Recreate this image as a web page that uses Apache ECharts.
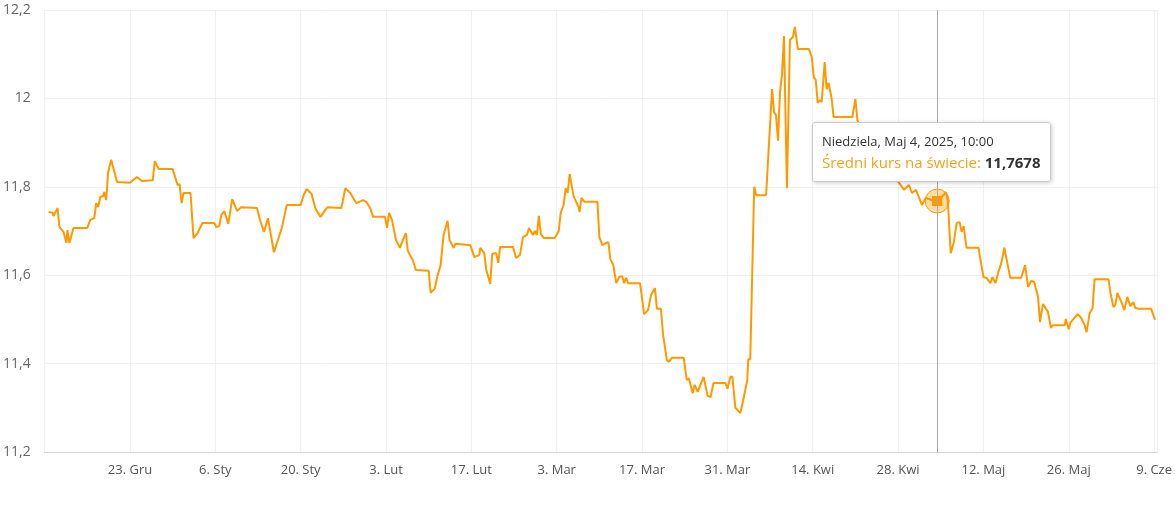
<!DOCTYPE html>
<html>
<head>
<meta charset="utf-8">
<script src="https://cdn.jsdelivr.net/npm/echarts@6/dist/echarts.min.js"></script>
<style>
  html, body { margin: 0; padding: 0; background: #fff; }
  #chart { width: 1175px; height: 506px; }
</style>
</head>
<body>
<div id="chart"></div>
<script>
// dni od 23 grudnia 2024
const days = [
  -13.35, -12.70, -12.54, -11.88, -11.56, -10.91, -10.42, -10.26, -9.93, -9.28,
  -7.00, -6.51, -5.86, -5.54, -5.21, -4.88, -4.40, -4.23, -3.91, -3.58,
  -3.09, -2.77, -2.12, 0, 1.14, 1.95, 3.74, 4.07, 4.72, 7.00,
  7.81, 8.14, 8.47, 8.79, 9.93, 10.42, 11.07, 11.88, 13.84, 14.16,
  14.65, 14.98, 15.47, 16.12, 16.77, 17.09, 17.58, 18.23, 20.84, 21.33,
  21.98, 22.63, 23.61, 24.42, 24.91, 25.72, 28.00, 28.49, 28.98, 29.79,
  30.44, 31.26, 31.91, 32.40, 34.68, 35.33, 36.14, 37.12, 38.26, 38.75,
  39.40, 39.89, 41.84, 42.17, 42.50, 42.98, 43.63, 44.28, 44.77, 45.26,
  45.58, 46.40, 46.89, 49.00, 49.33, 49.98, 50.47, 50.96, 51.44, 52.10,
  52.42, 53.07, 53.40, 55.84, 56.49, 57.31, 57.47, 58.12, 58.45, 59.10,
  59.42, 60.07, 60.40, 60.72, 62.84, 63.33, 63.98, 64.47, 65.12, 65.45,
  66.10, 66.42, 66.75, 67.07, 67.40, 67.89, 69.68, 70.33, 70.66, 71.14,
  71.47, 71.80, 72.12, 72.77, 73.59, 73.75, 74.07, 74.56, 76.68, 77.00,
  77.49, 78.14, 78.47, 78.80, 79.28, 79.77, 80.26, 80.75, 81.07, 81.40,
  81.72, 83.68, 84.33, 84.98, 85.47, 86.12, 86.44, 87.10, 87.42, 88.07,
  88.40, 88.89, 90.84, 91.33, 91.66, 92.31, 92.63, 93.12, 94.10, 94.75,
  95.24, 95.72, 97.68, 98.00, 98.49, 98.82, 99.31, 99.63, 100.12, 100.61,
  101.26, 101.42, 101.75, 102.40, 102.72, 104.35, 105.33, 105.66, 105.98, 106.31,
  106.63, 106.96, 107.28, 107.77, 108.26, 108.75, 109.07, 109.56, 111.35, 111.84,
  112.17, 112.49, 112.82, 113.14, 113.47, 113.96, 114.28, 114.61, 115.09, 115.42,
  118.51, 119.00, 119.33, 120.63, 122.09, 123.72, 125.35, 126.16, 126.98, 127.79,
  128.28, 128.93, 129.25, 129.91, 130.56, 131.53, 132.4167, 133.17, 133.83, 134.15,
  134.64, 135.12, 135.61, 136.10, 136.42, 136.75, 137.24, 139.19, 140.00, 140.49,
  141.14, 141.47, 141.96, 142.45, 142.94, 143.43, 143.75, 144.40, 146.19, 146.84,
  147.33, 147.82, 148.31, 148.96, 149.28, 149.77, 150.58, 151.07, 151.40, 153.35,
  153.51, 154.00, 154.33, 155.46, 155.95, 156.60, 156.93, 157.42, 157.91, 158.23,
  160.51, 160.84, 161.32, 161.65, 161.97, 162.63, 163.11, 163.60, 164.09, 164.58,
  164.90, 165.39, 167.51, 168.16
]
const rates = [
  11.743, 11.741, 11.734, 11.752, 11.709, 11.698, 11.673, 11.702, 11.673, 11.707,
  11.707, 11.725, 11.729, 11.763, 11.754, 11.777, 11.779, 11.788, 11.770, 11.833,
  11.861, 11.865, 11.811, 11.809, 11.822, 11.813, 11.815, 11.858, 11.840, 11.840,
  11.804, 11.806, 11.763, 11.786, 11.786, 11.684, 11.695, 11.718, 11.718, 11.709,
  11.711, 11.736, 11.745, 11.716, 11.772, 11.770, 11.745, 11.754, 11.752, 11.725,
  11.698, 11.729, 11.652, 11.686, 11.707, 11.759, 11.759, 11.781, 11.795, 11.784,
  11.750, 11.732, 11.745, 11.754, 11.752, 11.797, 11.786, 11.763, 11.770, 11.766,
  11.752, 11.732, 11.732, 11.707, 11.741, 11.725, 11.680, 11.662, 11.680, 11.695,
  11.655, 11.634, 11.612, 11.610, 11.560, 11.569, 11.600, 11.623, 11.691, 11.723,
  11.680, 11.662, 11.671, 11.668, 11.641, 11.646, 11.662, 11.650, 11.612, 11.580,
  11.648, 11.650, 11.628, 11.664, 11.664, 11.639, 11.646, 11.686, 11.691, 11.707,
  11.691, 11.700, 11.691, 11.734, 11.693, 11.684, 11.684, 11.700, 11.741, 11.759,
  11.797, 11.786, 11.829, 11.779, 11.754, 11.743, 11.775, 11.766, 11.766, 11.686,
  11.668, 11.673, 11.675, 11.637, 11.623, 11.582, 11.596, 11.598, 11.582, 11.594,
  11.582, 11.582, 11.512, 11.521, 11.555, 11.571, 11.524, 11.524, 11.469, 11.408,
  11.404, 11.413, 11.413, 11.363, 11.367, 11.333, 11.352, 11.336, 11.370, 11.327,
  11.324, 11.356, 11.356, 11.343, 11.370, 11.370, 11.300, 11.302, 11.288, 11.318,
  11.363, 11.410, 11.410, 11.800, 11.781, 11.781, 12.021, 11.969, 11.962, 11.904,
  12.014, 12.053, 12.141, 11.797, 12.132, 12.139, 12.162, 12.112, 12.112, 12.094,
  12.048, 12.042, 11.990, 11.996, 11.992, 12.082, 12.021, 12.035, 12.001, 11.958,
  11.958, 11.999, 11.951, 11.906, 11.883, 11.849, 11.820, 11.809, 11.793, 11.804,
  11.786, 11.793, 11.797, 11.759, 11.775, 11.770, 11.7678, 11.777, 11.788, 11.770,
  11.650, 11.673, 11.718, 11.720, 11.698, 11.711, 11.662, 11.662, 11.596, 11.594,
  11.582, 11.596, 11.582, 11.607, 11.628, 11.662, 11.662, 11.594, 11.594, 11.623,
  11.573, 11.587, 11.585, 11.551, 11.494, 11.535, 11.517, 11.481, 11.487, 11.487,
  11.501, 11.478, 11.494, 11.512, 11.505, 11.487, 11.471, 11.514, 11.526, 11.591,
  11.591, 11.560, 11.528, 11.533, 11.560, 11.539, 11.521, 11.551, 11.530, 11.539,
  11.526, 11.524, 11.524, 11.499
]
const monthNames = ['Sty', 'Lut', 'Mar', 'Kwi', 'Maj', 'Cze', 'Lip', 'Sie', 'Wrz', 'Paź', 'Lis', 'Gru']
const dayNames = ['Niedziela', 'Poniedziałek', 'Wtorek', 'Środa', 'Czwartek', 'Piątek', 'Sobota']
const tipIndex = 216

const base = new Date(2024, 11, 23)
const toDate = d => new Date(base.getTime() + Math.round(d * 24 * 60) * 60000)
const fmtNum = (v, n) => v.toFixed(n).replace('.', ',')

const chart = echarts.init(document.getElementById('chart'))
chart.setOption({
  animation: false,
  grid: { left: 40, right: 15, top: 10, bottom: 54 },
  xAxis: {
    type: 'value',
    min: -14,
    max: 168.5,
    interval: 14,
    axisLine: { lineStyle: { color: '#ccd6eb' } },
    axisTick: { show: false },
    splitLine: { show: true, lineStyle: { color: '#f0f0f0' } },
    axisLabel: {
      color: '#555', fontSize: 13, fontFamily: 'Open Sans', margin: 12,
      showMinLabel: false, showMaxLabel: false,
      formatter: v => {
        const dt = toDate(v)
        return dt.getDate() + '. ' + monthNames[dt.getMonth()]
      }
    }
  },
  yAxis: {
    type: 'value',
    min: 11.2,
    max: 12.2,
    interval: 0.2,
    axisLine: { show: false },
    axisTick: { show: false },
    splitLine: { lineStyle: { color: '#f0f0f0' } },
    axisLabel: {
      color: '#666', fontSize: 14, fontFamily: 'Open Sans', margin: 14,
      formatter: v => String(Math.round(v * 10) / 10).replace('.', ',')
    }
  },
  tooltip: {
    trigger: 'axis',
    triggerOn: 'none',
    alwaysShowContent: true,
    backgroundColor: 'rgba(255,255,255,0.97)',
    borderColor: '#ccc',
    borderWidth: 1,
    padding: [8, 9],
    extraCssText: 'box-shadow: 1px 1px 4px rgba(0,0,0,0.2); border-radius: 3px;',
    axisPointer: { type: 'line', lineStyle: { color: '#aaa', width: 1, type: 'solid' } },
    position: () => [812, 122],
    formatter: params => {
      const p = params[0]
      const dt = toDate(p.value[0])
      const hh = String(dt.getHours()).padStart(2, '0')
      const mm = String(dt.getMinutes()).padStart(2, '0')
      return '<div style="font-family:Open Sans;font-size:13px;color:#333;line-height:20px">' +
        dayNames[dt.getDay()] + ', ' + monthNames[dt.getMonth()] + ' ' + dt.getDate() + ', ' +
        dt.getFullYear() + ', ' + hh + ':' + mm + '</div>' +
        '<div style="font-family:Open Sans;font-size:15px;color:#f7a11a;line-height:22px">Średni kurs na świecie: ' +
        '<b style="color:#333">' + fmtNum(p.value[1], 4) + '</b></div>'
    }
  },
  series: [{
    type: 'line',
    data: days.map((d, i) => [d, rates[i]]),
    showSymbol: false,
    symbol: 'rect',
    symbolSize: 9,
    lineStyle: { color: '#ff9900', width: 2 },
    itemStyle: { color: '#ff9900' },
    emphasis: { disabled: true },
    markPoint: {
      silent: true,
      data: [
        { coord: [days[tipIndex], rates[tipIndex]], symbol: 'circle', symbolSize: 24,
          itemStyle: { color: 'rgba(255,153,0,0.35)', borderColor: '#ff9900', borderWidth: 1 } },
        { coord: [days[tipIndex], rates[tipIndex]], symbol: 'rect', symbolSize: 10,
          itemStyle: { color: '#ff9900' } }
      ],
      label: { show: false }
    }
  }]
})
chart.dispatchAction({ type: 'showTip', seriesIndex: 0, dataIndex: tipIndex })
</script>
</body>
</html>
